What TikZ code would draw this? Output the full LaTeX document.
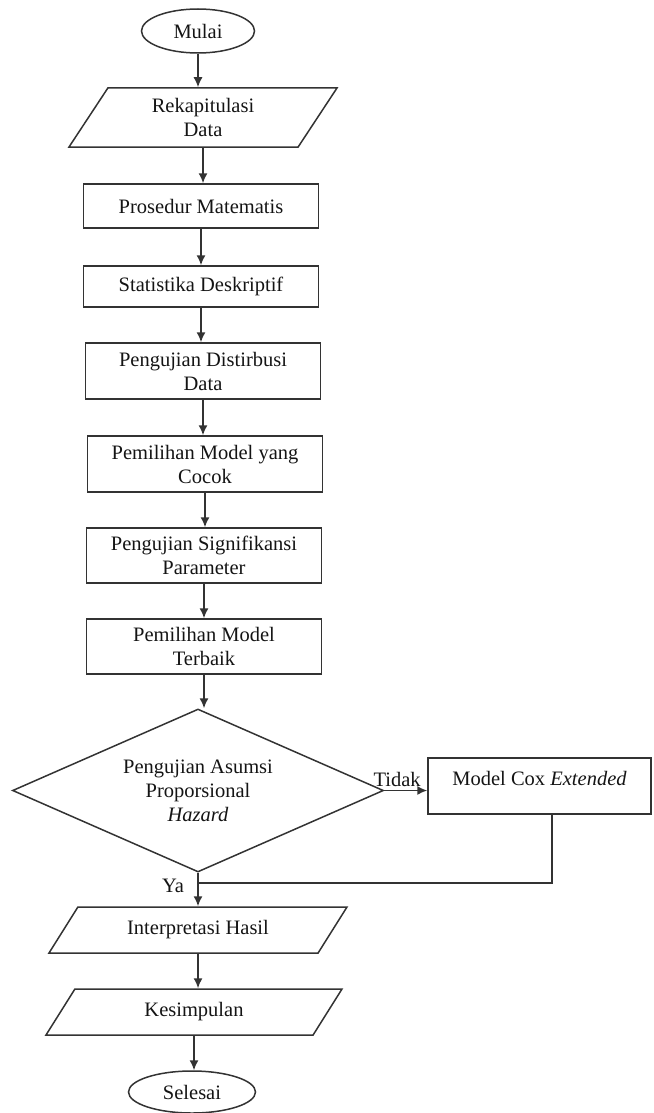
\documentclass[tikz,border=0pt]{standalone}
\usepackage{fontspec}
\setmainfont{Liberation Serif}
\usepackage{tikz}
\usetikzlibrary{arrows.meta}
\usetikzlibrary{shapes.geometric}
\definecolor{garis}{rgb}{0.2, 0.2, 0.2}
\definecolor{teks}{rgb}{0.08, 0.08, 0.08}

\begin{document}
\begin{tikzpicture}[x=1pt, y=-1pt, line width=1.5pt, text=teks,
    font=\fontsize{20.5}{24}\selectfont,
    terminal/.style={draw=garis, ellipse, inner sep=0pt},
    proses/.style={draw=garis, rectangle, minimum width=235pt, align=center, inner sep=2pt},
    dataio/.style={draw=garis, trapezium, trapezium stretches body, align=center, inner sep=2pt},
    keputusan/.style={draw=garis, diamond, shape aspect=2.28, minimum width=371pt, minimum height=163pt, align=center, inner sep=0pt},
    panah/.style={draw=garis, -{Latex[length=10pt, width=9pt]}}]
    \useasboundingbox (0, 0) rectangle (653, 1113);

    \node [terminal, minimum width=113pt, minimum height=44pt] (mulai) at (198, 31) {Mulai};
    \node [dataio, trapezium left angle=47.5, trapezium right angle=132.5, minimum width=268pt, minimum height=59pt] (rekap) at (203, 117.5) {Rekapitulasi\\Data};
    \node [proses, minimum height=44pt] (prosedur) at (201, 206) {Prosedur Matematis};
    \node [proses, minimum height=41pt] (statistik) at (201, 286.5) {Statistika Deskriptif};
    \node [proses, minimum height=56pt] (distribusi) at (203, 371) {Pengujian Distirbusi\\Data};
    \node [proses, minimum height=56pt] (cocok) at (205, 464) {Pemilihan Model yang\\Cocok};
    \node [proses, minimum height=55pt] (signifikan) at (204, 555.5) {Pengujian Signifikansi\\Parameter};
    \node [proses, minimum height=55pt] (terbaik) at (204, 646.5) {Pemilihan Model\\Terbaik};
    \node [keputusan] (asumsi) at (198, 790.5) {Pengujian Asumsi\\Proporsional\\\textit{Hazard}};
    \node [proses, minimum width=223pt, minimum height=56pt, text height=23pt, text depth=25pt, inner ysep=4pt] (cox) at (539.5, 786) {Model Cox \textit{Extended}};
    \node [dataio, trapezium left angle=38, trapezium right angle=142, minimum width=298pt, minimum height=46pt] (interpretasi) at (198, 930) {Interpretasi Hasil};
    \node [dataio, trapezium left angle=38, trapezium right angle=142, minimum width=296pt, minimum height=46pt] (simpulan) at (194, 1012) {Kesimpulan};
    \node [terminal, minimum width=127pt, minimum height=42pt] (selesai) at (192, 1092) {Selesai};

    \foreach \a/\b in {mulai/rekap, rekap/prosedur, prosedur/statistik, statistik/distribusi,
        distribusi/cocok, cocok/signifikan, signifikan/terbaik, terbaik/asumsi, interpretasi/simpulan, simpulan/selesai}
      \draw [panah] (\a.south) -- (\a.south |- \b.north);

    \draw [panah] (asumsi.east) -- (asumsi.east -| cox.west) node [pos=0.3, above] {Tidak};
    \draw [panah] (asumsi.south) -- (asumsi.south |- interpretasi.north) node [pos=0.4, left=10pt] {Ya};

    \coordinate (gabung) at (198, 883);
    \draw [draw=garis] ([xshift=12.5pt]cox.south) |- (gabung);
\end{tikzpicture}
\end{document}
